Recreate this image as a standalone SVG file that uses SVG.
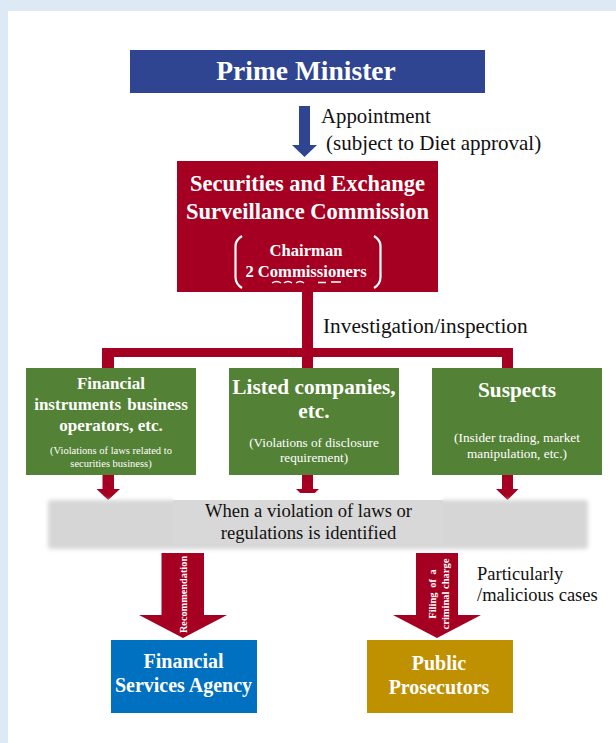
<svg xmlns="http://www.w3.org/2000/svg" width="616" height="743" viewBox="0 0 616 743">
  <defs>
    <style>
      .t { font-family: "Liberation Serif", "Times New Roman", serif; }
      .b { font-weight: bold; fill: #ffffff; }
      .n { font-weight: normal; fill: #ffffff; }
      .k { fill: #111111; }
      .red { fill: #a50021; }
    </style>
    <filter id="soft" x="-5%" y="-20%" width="110%" height="140%">
      <feGaussianBlur stdDeviation="2.2"/>
    </filter>
  </defs>

  <rect x="0" y="0" width="616" height="743" fill="#dde9f5"/>
  <rect x="8" y="11" width="608" height="732" fill="#ffffff"/>

  <!-- connectors -->
  <g id="connectors">
    <!-- appointment arrow -->
    <polygon points="299,106 310,106 310,145 317,145 304.5,157 292,145 299,145" fill="#2f4592"/>
    <!-- investigation tree -->
    <rect class="red" x="302" y="292" width="11" height="76"/>
    <rect class="red" x="102" y="348" width="411" height="9"/>
    <rect class="red" x="102" y="348" width="12" height="20"/>
    <rect class="red" x="502" y="348" width="11" height="20"/>
    <!-- down arrows to gray bar -->
    <polygon class="red" points="102.5,474 114,474 114,489 120,489 108.2,500 96.5,489 102.5,489"/>
    <polygon class="red" points="302,474 313,474 313,489 319,489 307.5,500 296,489 302,489"/>
    <polygon class="red" points="502,474 513,474 513,489 518.5,489 507.5,500 496,489 502,489"/>
    <!-- recommendation arrow -->
    <polygon class="red" points="161.5,553 204,553 204,615 227,615 183,638 139,615 161.5,615"/>
    <!-- filing arrow -->
    <polygon class="red" points="416,553 458,553 458,615 481,615 437,638 393,615 416,615"/>
    <text class="t b" font-size="10.3" text-anchor="middle" transform="translate(187.3,594.5) rotate(-90)">Recommendation</text>
    <text class="t b" font-size="10.5" text-anchor="middle" word-spacing="2" transform="translate(436,594) rotate(-90)">Filing of a</text>
    <text class="t b" font-size="10.5" text-anchor="middle" transform="translate(449,594) rotate(-90)">criminal charge</text>
    <text class="t k" font-size="20.8" x="321" y="123">Appointment</text>
    <text class="t k" font-size="21" x="326" y="150">(subject to Diet approval)</text>
    <text class="t k" font-size="21.3" x="323" y="333">Investigation/inspection</text>
    <text class="t k" font-size="18.5" x="477" y="580">Particularly</text>
    <text class="t k" font-size="18.5" x="477" y="601">/malicious cases</text>
  </g>

  <g id="prime-minister">
    <rect x="130" y="50" width="355" height="43" fill="#2f4592"/>
    <text class="t b" font-size="27.5" text-anchor="middle" x="306" y="80">Prime Minister</text>
  </g>

  <g id="sesc">
    <rect class="red" x="177" y="161" width="261" height="131"/>
    <text class="t b" font-size="22.5" text-anchor="middle" x="307.5" y="191">Securities and Exchange</text>
    <text class="t b" font-size="22.5" text-anchor="middle" x="307.5" y="219">Surveillance Commission</text>
    <path d="M242,236 Q235.5,240 235.5,246 L235.5,277 Q235.5,284 242,288" fill="none" stroke="#ffffff" stroke-width="2.2"/>
    <path d="M374,236 Q380.5,240 380.5,246 L380.5,277 Q380.5,284 374,288" fill="none" stroke="#ffffff" stroke-width="2.2"/>
    <text class="t b" font-size="16.6" text-anchor="middle" x="306" y="256">Chairman</text>
    <text class="t b" font-size="16.6" text-anchor="middle" x="306" y="277">2 Commissioners</text>
    <path d="M272,283 q4.5,-3 9,0 M284,283 q4,-3 8,0 M296,283 q4,-3 8,0 M318,282.5 h8 M331,282 h10" fill="none" stroke="#ffffff" stroke-width="1.4"/>
  </g>

  <g id="financial-instruments">
    <rect x="26" y="368" width="170" height="107" fill="#538135"/>
    <text class="t b" font-size="17" text-anchor="middle" x="111" y="389">Financial</text>
    <text class="t b" font-size="17" text-anchor="middle" x="111" y="410" word-spacing="2">instruments business</text>
    <text class="t b" font-size="17" text-anchor="middle" x="111" y="431">operators, etc.</text>
    <text class="t n" font-size="10.5" text-anchor="middle" x="111" y="454">(Violations of laws related to</text>
    <text class="t n" font-size="10.5" text-anchor="middle" x="111" y="467">securities business)</text>
  </g>

  <g id="listed-companies">
    <rect x="229" y="368" width="170" height="107" fill="#538135"/>
    <text class="t b" font-size="21.3" text-anchor="middle" x="314" y="394">Listed companies,</text>
    <text class="t b" font-size="21.3" text-anchor="middle" x="314" y="418">etc.</text>
    <text class="t n" font-size="13.2" text-anchor="middle" x="314" y="447">(Violations of disclosure</text>
    <text class="t n" font-size="13.2" text-anchor="middle" x="314" y="462">requirement)</text>
  </g>

  <g id="suspects">
    <rect x="432" y="368" width="170" height="107" fill="#538135"/>
    <text class="t b" font-size="21.3" text-anchor="middle" x="517" y="397">Suspects</text>
    <text class="t n" font-size="13.3" text-anchor="middle" x="517" y="442">(Insider trading, market</text>
    <text class="t n" font-size="13.3" text-anchor="middle" x="517" y="458">manipulation, etc.)</text>
  </g>

  <g id="violation-identified">
    <rect x="48" y="500" width="540" height="49" rx="3" fill="#d6d6d6" filter="url(#soft)"/>
    <rect x="173" y="493" width="270" height="7" fill="#ffffff"/>
    <rect x="173" y="500" width="270" height="44" fill="#d8d8d8"/>
    <text class="t k" font-size="18.6" text-anchor="middle" x="308.5" y="517">When a violation of laws or</text>
    <text class="t k" font-size="18.6" text-anchor="middle" x="308.5" y="539">regulations is identified</text>
  </g>

  <g id="fsa">
    <rect x="111" y="640" width="146" height="73" fill="#0070c0"/>
    <text class="t b" font-size="20" text-anchor="middle" x="183.5" y="668">Financial</text>
    <text class="t b" font-size="20" text-anchor="middle" x="183.5" y="692">Services Agency</text>
  </g>

  <g id="public-prosecutors">
    <rect x="367" y="640" width="146" height="73" fill="#bf9000"/>
    <text class="t b" font-size="20" text-anchor="middle" x="439" y="670">Public</text>
    <text class="t b" font-size="20" text-anchor="middle" x="439" y="694">Prosecutors</text>
  </g>
</svg>
